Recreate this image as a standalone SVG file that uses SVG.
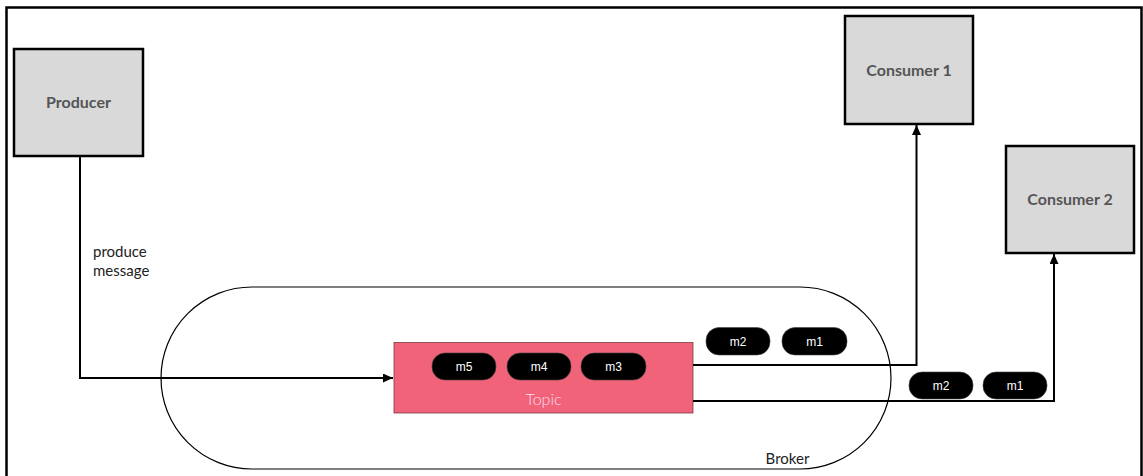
<svg xmlns="http://www.w3.org/2000/svg" width="1143" height="476" viewBox="0 0 1143 476">
<defs>
<style>
.box{fill:#d9d9d9;stroke:#000;stroke-width:2.5}
.lbl{font-family:Lato,"Open Sans",sans-serif;font-weight:bold;font-size:16px;fill:#555;text-anchor:middle}
.pill{fill:#000;stroke:#444;stroke-width:0.6}
.pt{font-family:"Liberation Sans",Arial,sans-serif;font-size:12px;fill:#fff;text-anchor:middle}
.conn{fill:none;stroke:#000;stroke-width:2}
.thin{font-family:Lato,"Open Sans",sans-serif;font-weight:normal;font-size:15px;fill:#222}
</style>
<marker id="ah" viewBox="0 0 10 9" refX="10" refY="4.5" markerWidth="11" markerHeight="9" markerUnits="userSpaceOnUse" orient="auto">
<path d="M0,0 L10,4.5 L0,9 Z" fill="#000"/>
</marker>
</defs>
<rect width="1143" height="476" fill="#fff"/>
<path d="M6.5,476 V7.5 H1141.5 V476" fill="none" stroke="#000" stroke-width="2.5"/>
<g id="broker">
<rect x="161" y="287" width="730" height="182" rx="91" ry="91" fill="none" stroke="#000" stroke-width="1.2"/>
<text x="787.5" y="464" class="thin" font-size="17.5px" text-anchor="middle">Broker</text>
</g>
<g id="producer">
<rect class="box" x="14" y="49" width="129" height="107"/>
<text class="lbl" x="78.5" y="108">Producer</text>
</g>
<g id="consumer1">
<rect class="box" x="845" y="16" width="128" height="108"/>
<text class="lbl" x="909" y="76">Consumer 1</text>
</g>
<g id="consumer2">
<rect class="box" x="1006" y="146" width="128" height="107"/>
<text class="lbl" x="1070" y="205">Consumer 2</text>
</g>
<g id="topic">
<rect x="394" y="342.5" width="299" height="70.5" fill="#f06379" stroke="#7a3a44" stroke-width="0.8"/>
<text x="543.5" y="405" font-family="Lato,'Open Sans',sans-serif" font-weight="300" font-size="16px" fill="#fde" text-anchor="middle">Topic</text>
<rect class="pill" x="432" y="353" width="64" height="27" rx="13"/>
<text class="pt" x="464" y="371">m5</text>
<rect class="pill" x="507" y="353" width="64" height="27" rx="13"/>
<text class="pt" x="539" y="371">m4</text>
<rect class="pill" x="581" y="353" width="65" height="27" rx="13"/>
<text class="pt" x="613.5" y="371">m3</text>
</g>
<g id="messages">
<rect class="pill" x="706" y="327.5" width="64" height="27.5" rx="13"/>
<text class="pt" x="738" y="345.5">m2</text>
<rect class="pill" x="782" y="327.5" width="65" height="27.5" rx="13"/>
<text class="pt" x="814.5" y="345.5">m1</text>
<rect class="pill" x="909" y="372" width="64" height="27" rx="13"/>
<text class="pt" x="941" y="390">m2</text>
<rect class="pill" x="983" y="372" width="64" height="27" rx="13"/>
<text class="pt" x="1015" y="390">m1</text>
</g>
<g id="connectors">
<path class="conn" d="M80,156 V378 H393" marker-end="url(#ah)"/>
<path class="conn" d="M693,365 H916.5 V125" marker-end="url(#ah)"/>
<path class="conn" d="M693,401 H1054 V254" marker-end="url(#ah)"/>
</g>
<text class="thin" x="93" y="257">produce</text>
<text class="thin" x="93" y="276">message</text>
</svg>
